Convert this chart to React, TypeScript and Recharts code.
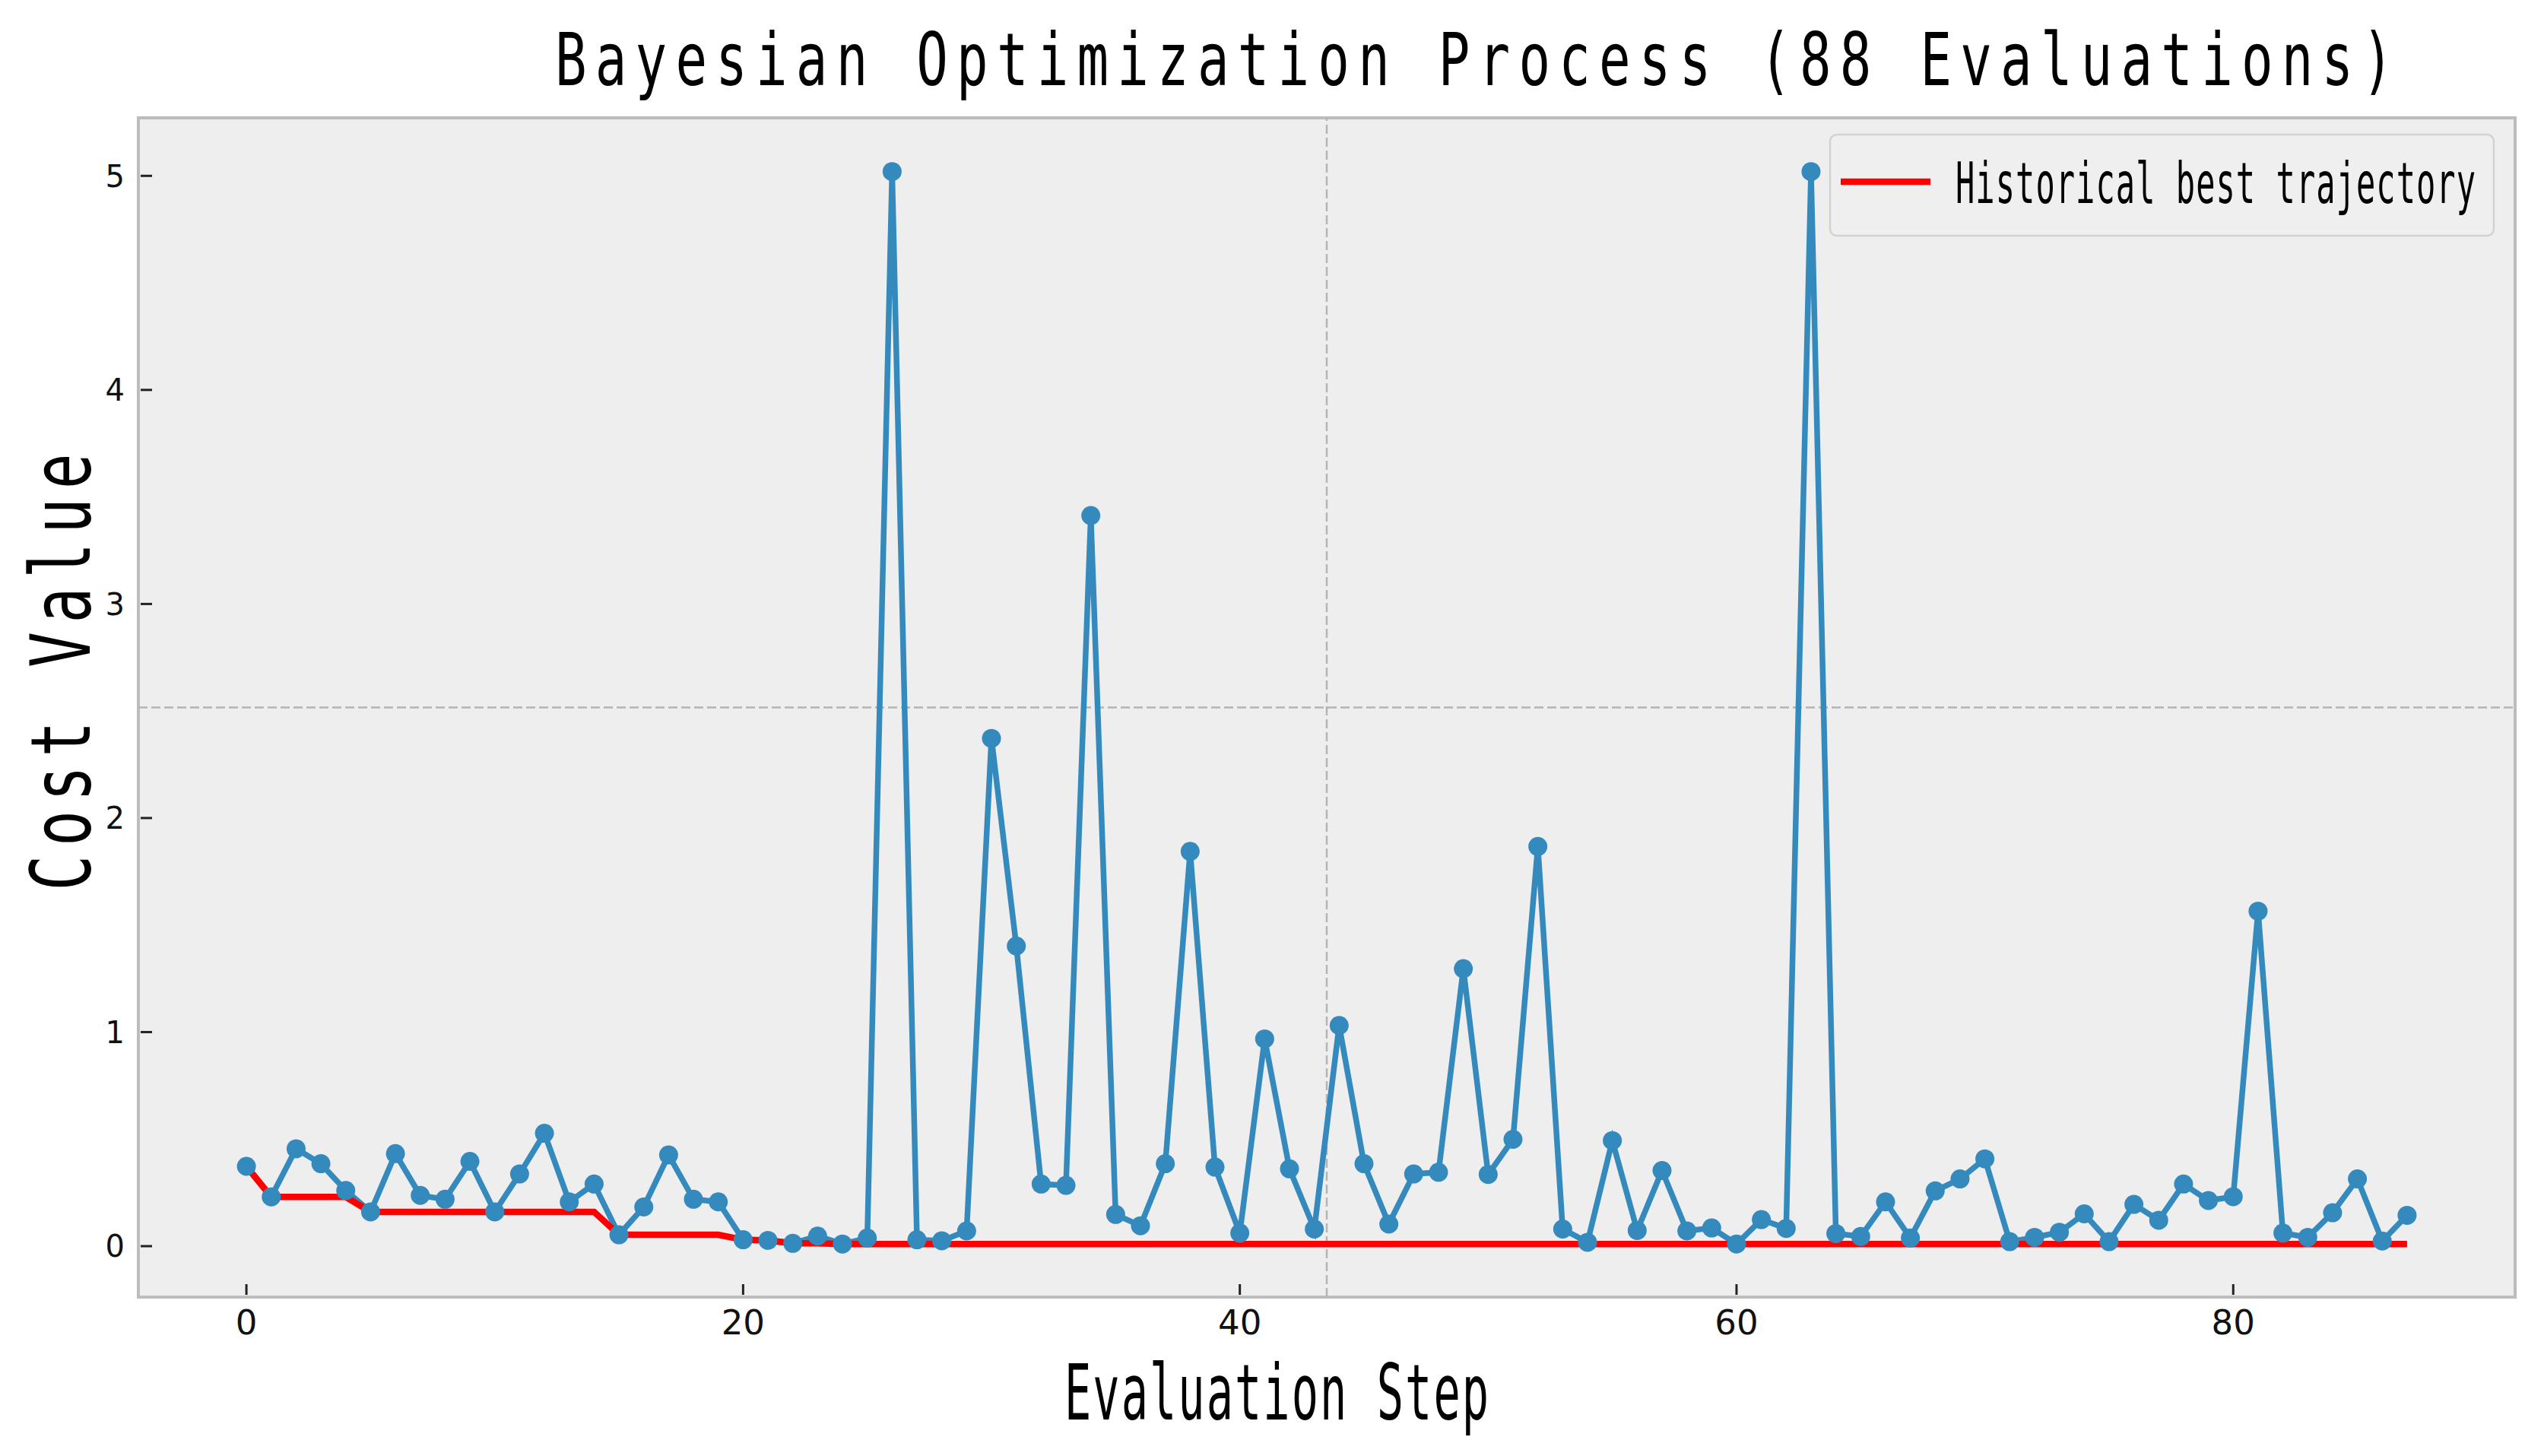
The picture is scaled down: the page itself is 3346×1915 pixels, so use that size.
import React from "react";
import {
  LineChart,
  Line,
  XAxis,
  YAxis,
  CartesianGrid,
  ReferenceLine,
  ReferenceArea,
} from "recharts";

// ---- data ----
const costValues: number[] = [
  0.373, 0.23, 0.455, 0.385, 0.26, 0.16, 0.432, 0.237, 0.219, 0.396,
  0.16, 0.337, 0.527, 0.207, 0.29, 0.053, 0.183, 0.426, 0.219, 0.207,
  0.03, 0.027, 0.013, 0.047, 0.01, 0.038, 5.02, 0.03, 0.025, 0.071,
  2.372, 1.402, 0.29, 0.284, 3.413, 0.148, 0.095, 0.385, 1.844, 0.369,
  0.061, 0.968, 0.361, 0.08, 1.031, 0.385, 0.103, 0.337, 0.345, 1.296,
  0.335, 0.499, 1.867, 0.08, 0.018, 0.493, 0.073, 0.353, 0.071, 0.085,
  0.01, 0.124, 0.083, 5.02, 0.059, 0.045, 0.207, 0.038, 0.258, 0.314,
  0.408, 0.021, 0.041, 0.065, 0.151, 0.021, 0.195, 0.121, 0.29, 0.213,
  0.231, 1.565, 0.061, 0.041, 0.156, 0.314, 0.024, 0.144,
];

const bestValues: number[] = [
  0.373, 0.23, 0.23, 0.23, 0.23, 0.16, 0.16, 0.16, 0.16, 0.16,
  0.16, 0.16, 0.16, 0.16, 0.16, 0.053, 0.053, 0.053, 0.053, 0.053,
  0.03, 0.027, 0.013, 0.013, 0.01, 0.01, 0.01, 0.01, 0.01, 0.01,
  0.01, 0.01, 0.01, 0.01, 0.01, 0.01, 0.01, 0.01, 0.01, 0.01,
  0.01, 0.01, 0.01, 0.01, 0.01, 0.01, 0.01, 0.01, 0.01, 0.01,
  0.01, 0.01, 0.01, 0.01, 0.01, 0.01, 0.01, 0.01, 0.01, 0.01,
  0.01, 0.01, 0.01, 0.01, 0.01, 0.01, 0.01, 0.01, 0.01, 0.01,
  0.01, 0.01, 0.01, 0.01, 0.01, 0.01, 0.01, 0.01, 0.01, 0.01,
  0.01, 0.01, 0.01, 0.01, 0.01, 0.01, 0.01, 0.01,
];

const xTicks: number[] = [0, 20, 40, 60, 80];
const yTicks: number[] = [0, 1, 2, 3, 4, 5];
const xDomain: [number, number] = [-4.35, 91.35];
const yDomain: [number, number] = [-0.238, 5.271];

const TITLE = "Bayesian Optimization Process (88 Evaluations)";
const X_LABEL = "Evaluation Step";
const Y_LABEL = "Cost Value";
const LEGEND_LABEL = "Historical best trajectory";

const rows = costValues.map((cost, i) => ({ step: i, cost, best: bestValues[i] }));

const W = 3346;
const H = 1915;

function CondText(props: {
  x: number;
  y: number;
  width: number;
  fontSize: number;
  scale: number;
  rotate?: number;
  anchor?: "start" | "middle";
  weight?: number;
  text: string;
}) {
  const { x, y, width, fontSize, scale, rotate = 0, anchor = "start", weight = 400, text } = props;
  const start = anchor === "middle" ? -width / 2 : 0;
  return (
    <g transform={`translate(${x} ${y}) rotate(${rotate}) scale(${scale} 1)`}>
      <text
        x={start / scale}
        y={0}
        fontFamily="'DejaVu Sans Mono', monospace"
        fontSize={fontSize}
        fontWeight={weight}
        textLength={width / scale}
        lengthAdjust="spacing"
        fill="#000"
      >
        {text}
      </text>
    </g>
  );
}

const XTick = (p: any) => {
  const { x, y, payload } = p;
  return (
    <g>
      <line x1={x} x2={x} y1={y - 3} y2={y - 17} stroke="#222" strokeWidth={3} />
      <text
        x={x}
        y={y + 49}
        textAnchor="middle"
        fontFamily="'DejaVu Sans', sans-serif"
        fontSize={45}
        fill="#111"
      >
        {payload.value}
      </text>
    </g>
  );
};

const YTick = (p: any) => {
  const { x, y, payload } = p;
  return (
    <g>
      <line x1={x + 3} x2={x + 18} y1={y} y2={y} stroke="#222" strokeWidth={3} />
      <text
        x={x - 18}
        y={y + 14.5}
        textAnchor="end"
        fontFamily="'DejaVu Sans', sans-serif"
        fontSize={40}
        fill="#111"
      >
        {payload.value}
      </text>
    </g>
  );
};

export default function App() {
  return (
    <div
      style={{
        position: "absolute",
        left: 0,
        top: 0,
        width: W,
        height: H,
        background: "#ffffff",
      }}
    >
      <LineChart
        width={W}
        height={H}
        data={rows}
        margin={{ top: 155, right: 38, bottom: 0, left: 0 }}
      >
        <CartesianGrid horizontal={false} vertical={false} fill="#eeeeee" />
        <ReferenceLine
          x={43.5}
          stroke="#b4b4b4"
          strokeWidth={2.5}
          strokeDasharray="12 5"
        />
        <ReferenceLine
          y={2.5165}
          stroke="#b4b4b4"
          strokeWidth={2.5}
          strokeDasharray="12 5"
        />
        <XAxis
          type="number"
          dataKey="step"
          domain={xDomain}
          ticks={xTicks}
          allowDataOverflow
          height={209}
          axisLine={false}
          tickLine={false}
          tickSize={0}
          tickMargin={0}
          tick={XTick}
          interval={0}
        />
        <YAxis
          type="number"
          domain={yDomain}
          ticks={yTicks}
          allowDataOverflow
          width={182}
          axisLine={false}
          tickLine={false}
          tickSize={0}
          tickMargin={0}
          tick={YTick}
          interval={0}
        />
        <Line
          type="linear"
          dataKey="cost"
          stroke="#348ABD"
          strokeWidth={7.5}
          dot={{ r: 12.5, fill: "#348ABD", stroke: "none" }}
          activeDot={false}
          isAnimationActive={false}
        />
        <Line
          type="linear"
          dataKey="best"
          stroke="#ff0000"
          strokeWidth={8.5}
          dot={false}
          activeDot={false}
          isAnimationActive={false}
        />
        <ReferenceArea
          x1={xDomain[0]}
          x2={xDomain[1]}
          y1={yDomain[0]}
          y2={yDomain[1]}
          fill="none"
          fillOpacity={0}
          stroke="#bcbcbc"
          strokeWidth={4}
        />
      </LineChart>
      <svg
        width={W}
        height={H}
        style={{ position: "absolute", left: 0, top: 0, pointerEvents: "none" }}
      >
        <CondText x={730} y={112} width={2418} fontSize={96} scale={0.72} text={TITLE} />
        <CondText
          x={118}
          y={884}
          width={575}
          fontSize={108}
          scale={0.72}
          rotate={-90}
          anchor="middle"
          text={Y_LABEL}
        />
        <CondText x={1400} y={1867} width={558} fontSize={101} scale={0.58} text={X_LABEL} />
        <rect
          x={2407}
          y={177}
          width={873}
          height={133}
          rx={9}
          fill="#eeeeee"
          fillOpacity={0.85}
          stroke="#d2d2d2"
          strokeWidth={2.5}
        />
        <line x1={2421} x2={2539} y1={239} y2={239} stroke="#ff0000" strokeWidth={8.5} />
        <CondText x={2572} y={267} width={684} fontSize={75} scale={0.56} text={LEGEND_LABEL} />
      </svg>
    </div>
  );
}
